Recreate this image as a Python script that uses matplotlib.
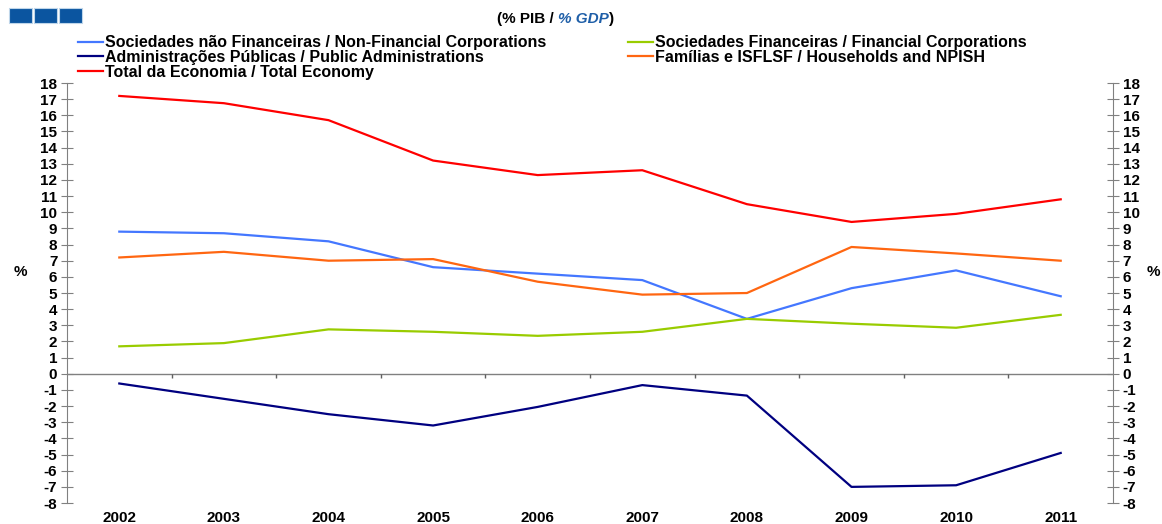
import numpy as np
import matplotlib.pyplot as plt
from matplotlib.patches import Rectangle

plt.rcParams['font.family'] = ['Liberation Sans', 'DejaVu Sans']
plt.rcParams['font.weight'] = 'bold'
plt.rcParams['axes.unicode_minus'] = False

anos = ['2002', '2003', '2004', '2005', '2006', '2007', '2008', '2009', '2010', '2011']
nao_financeiras = [8.8, 8.7, 8.2, 6.6, 6.2, 5.8, 3.4, 5.3, 6.4, 4.8]
financeiras = [1.7, 1.9, 2.75, 2.6, 2.35, 2.6, 3.4, 3.1, 2.85, 3.65]
adm_publicas = [-0.6, -1.55, -2.5, -3.2, -2.05, -0.7, -1.35, -7.0, -6.9, -4.9]
familias = [7.2, 7.55, 7.0, 7.1, 5.7, 4.9, 5.0, 7.85, 7.45, 7.0]
total = [17.2, 16.75, 15.7, 13.2, 12.3, 12.6, 10.5, 9.4, 9.9, 10.8]

fig = plt.figure(figsize=(11.62, 5.24), dpi=100)
ax = fig.add_axes([67/1162, 0.040, (1113-67)/1162, 0.8016])
x = np.arange(len(anos))

l1, = ax.plot(x, nao_financeiras, color='#4477FF', lw=1.6)
l2, = ax.plot(x, financeiras, color='#99CC00', lw=1.6)
l3, = ax.plot(x, adm_publicas, color='#000080', lw=1.6)
l4, = ax.plot(x, familias, color='#FF6611', lw=1.6)
l5, = ax.plot(x, total, color='#FF0000', lw=1.6)

ax.set_xlim(-0.5, len(anos) - 0.5)
ax.set_ylim(-8, 18)
ax.set_yticks(range(-8, 19))
ax.set_xticks(x)
ax.set_xticklabels(anos, fontsize=11, fontweight='bold')
ax.tick_params(axis='x', length=0, pad=6)
ax.tick_params(axis='y', direction='inout', length=8, color='#808080', labelsize=11, pad=3)
for s in ['top', 'bottom', 'right']:
    ax.spines[s].set_visible(False)
ax.spines['left'].set_color('#808080')

# eixo zero com marcas entre categorias
ax.axhline(0, color='#808080', lw=1, zorder=1)
ax.vlines(np.arange(0.5, len(anos) - 0.5), -0.28, 0, color='#606060', lw=1)

ax2 = ax.twinx()
ax2.set_ylim(-8, 18)
ax2.set_yticks(range(-8, 19))
ax2.tick_params(axis='y', direction='inout', length=8, color='#808080', labelsize=11, pad=3)
for s in ['top', 'bottom', 'left']:
    ax2.spines[s].set_visible(False)
ax2.spines['right'].set_color('#808080')

fig.text(20/1162, 1 - 272/524, '%', fontsize=11, fontweight='bold', ha='center', va='center')
fig.text(1153/1162, 1 - 272/524, '%', fontsize=11, fontweight='bold', ha='center', va='center')

# subtitulo
t1 = fig.text(497/1162, 1 - 19/524, '(% PIB / ', fontsize=11, fontweight='bold', ha='left', va='center')
t2 = ax.annotate('% GDP', xy=(1, 0), xycoords=t1, fontsize=11, fontweight='bold', style='italic',
                 color='#1F5FA8', ha='left', va='bottom', annotation_clip=False)
ax.annotate(')', xy=(1, 0), xycoords=t2, fontsize=11, fontweight='bold', ha='left', va='bottom',
            annotation_clip=False)

# quadrados azuis
for i in range(3):
    fig.patches.append(Rectangle(((9 + i * 25) / 1162, 1 - 23/524), 23/1162, 15/524,
                                 transform=fig.transFigure, facecolor='#0B55A0',
                                 edgecolor='#BFD6EA', lw=0.8))

leg_kw = dict(frameon=False, fontsize=11.5, handlelength=1.55, handletextpad=0.15,
              labelspacing=-0.03, borderaxespad=0, borderpad=0)
leg1 = fig.legend([l1, l3, l5],
                  ['Sociedades não Financeiras / Non-Financial Corporations',
                   'Administrações Públicas / Public Administrations',
                   'Total da Economia / Total Economy'],
                  loc='upper left', bbox_to_anchor=(78/1162, 1 - 35.5/524), **leg_kw)
leg2 = fig.legend([l2, l4],
                  ['Sociedades Financeiras / Financial Corporations',
                   'Famílias e ISFLSF / Households and NPISH'],
                  loc='upper left', bbox_to_anchor=(628/1162, 1 - 35.5/524), **leg_kw)

fig.savefig('out.png', dpi=100)
